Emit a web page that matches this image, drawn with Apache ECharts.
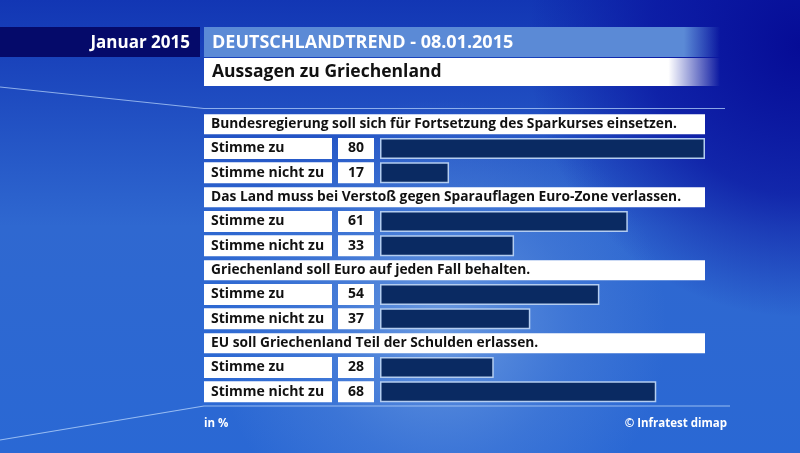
<!DOCTYPE html>
<html>
<head>
<meta charset="utf-8">
<script src="https://cdn.jsdelivr.net/npm/echarts@6/dist/echarts.min.js"></script>
<style>
  html, body { margin: 0; padding: 0; }
  #chart { width: 800px; height: 453px; }
</style>
</head>
<body>
<div id="chart"></div>
<script>
// Daten
var questions = [
    'Bundesregierung soll sich für Fortsetzung des Sparkurses einsetzen.',
    'Das Land muss bei Verstoß gegen Sparauflagen Euro-Zone verlassen.',
    'Griechenland soll Euro auf jeden Fall behalten.',
    'EU soll Griechenland Teil der Schulden erlassen.'
];
var answerLabels = ['Stimme zu', 'Stimme nicht zu'];
var agreeValues = [80, 61, 54, 28];
var disagreeValues = [17, 33, 37, 68];

var FONT = '"Open Sans", "DejaVu Sans", sans-serif';

// Zeilen bauen: Frage, dann zwei Antworten
var rows = [];
for (var i = 0; i < questions.length; i++) {
    rows.push({ type: 'q', text: questions[i] });
    rows.push({ type: 'a', text: answerLabels[0], value: agreeValues[i] });
    rows.push({ type: 'a', text: answerLabels[1], value: disagreeValues[i] });
}
var rowNames = rows.map(function (r, i) { return 'r' + i; });
var barData = rows.map(function (r) { return r.type === 'a' ? r.value : null; });
var boxData = rows.map(function (r, i) { return [0, i]; });

var chart = echarts.init(document.getElementById('chart'));

function renderBox(params, api) {
    var row = rows[params.dataIndex];
    var p = api.coord([0, params.dataIndex]); // p[0] = Achsenursprung
    var cy = p[1];
    var x0 = p[0] - 176;
    if (row.type === 'q') {
        return {
            type: 'group',
            children: [{
                type: 'rect',
                shape: { x: x0, y: cy - 10, width: 501, height: 20 },
                style: { fill: '#ffffff' }
            }, {
                type: 'text',
                style: {
                    x: x0 + 7, y: cy, text: row.text,
                    fill: '#111111', font: 'bold 13.75px ' + FONT,
                    verticalAlign: 'middle'
                }
            }]
        };
    }
    return {
        type: 'group',
        children: [{
            type: 'rect',
            shape: { x: x0, y: cy - 10.5, width: 128, height: 21 },
            style: { fill: '#ffffff' }
        }, {
            type: 'text',
            style: {
                x: x0 + 7, y: cy, text: row.text,
                fill: '#111111', font: 'bold 14px ' + FONT,
                verticalAlign: 'middle'
            }
        }, {
            type: 'rect',
            shape: { x: x0 + 134, y: cy - 10.5, width: 36, height: 21 },
            style: { fill: '#ffffff' }
        }, {
            type: 'text',
            style: {
                x: x0 + 152, y: cy, text: String(row.value),
                fill: '#111111', font: 'bold 14px ' + FONT,
                align: 'center', verticalAlign: 'middle'
            }
        }]
    };
}

chart.setOption({
    animation: false,
    backgroundColor: '#1a4cc4',
    graphic: [
        // Hintergrund
        {
            type: 'rect', z: -10, silent: true,
            shape: { x: 0, y: 0, width: 800, height: 453 },
            style: {
                fill: new echarts.graphic.LinearGradient(0, 0, 0, 1, [
                    { offset: 0, color: '#1236b4' },
                    { offset: 0.5, color: '#2f68d0' },
                    { offset: 1, color: '#2a68d4' }
                ])
            }
        },
        {
            type: 'rect', z: -9, silent: true,
            shape: { x: 0, y: 0, width: 800, height: 453 },
            style: {
                fill: new echarts.graphic.RadialGradient(0.55, 0.72, 0.5, [
                    { offset: 0, color: 'rgba(120,165,228,0.85)' },
                    { offset: 0.6, color: 'rgba(90,140,220,0.35)' },
                    { offset: 1, color: 'rgba(90,140,220,0)' }
                ])
            }
        },
        {
            type: 'rect', z: -8, silent: true,
            shape: { x: 0, y: 0, width: 800, height: 453 },
            style: {
                fill: new echarts.graphic.RadialGradient(1, 0.1, 0.6, [
                    { offset: 0, color: 'rgba(6,12,150,1)' },
                    { offset: 0.55, color: 'rgba(10,20,160,0.75)' },
                    { offset: 1, color: 'rgba(10,20,160,0)' }
                ])
            }
        },
        // Linien
        {
            type: 'polyline', z: -5, silent: true,
            shape: { points: [[0, 87], [204, 108.5], [725, 108.5]] },
            style: { stroke: 'rgba(170,200,245,0.8)', lineWidth: 1.2, fill: null }
        },
        {
            type: 'polyline', z: -5, silent: true,
            shape: { points: [[0, 440], [204, 406], [730, 406]] },
            style: { stroke: 'rgba(180,210,250,0.8)', lineWidth: 1.2, fill: null }
        },
        // Kopfzeile
        {
            type: 'rect', silent: true,
            shape: { x: 0, y: 27, width: 200, height: 30 },
            style: { fill: '#050a6a' }
        },
        {
            type: 'text', silent: true,
            style: {
                x: 190, y: 43, text: 'Januar 2015', fill: '#ffffff',
                font: 'bold 17px ' + FONT, align: 'right', verticalAlign: 'middle'
            }
        },
        {
            type: 'rect', silent: true,
            shape: { x: 204, y: 27, width: 516, height: 30 },
            style: {
                fill: new echarts.graphic.LinearGradient(0, 0, 1, 0, [
                    { offset: 0, color: '#5b8ad6' },
                    { offset: 0.93, color: '#5b8ad6' },
                    { offset: 1, color: 'rgba(91,138,214,0)' }
                ])
            }
        },
        {
            type: 'text', silent: true,
            style: {
                x: 212, y: 43, text: 'DEUTSCHLANDTREND - 08.01.2015', fill: '#ffffff',
                font: 'bold 18px ' + FONT, verticalAlign: 'middle'
            }
        },
        {
            type: 'rect', silent: true,
            shape: { x: 204, y: 58, width: 516, height: 28 },
            style: {
                fill: new echarts.graphic.LinearGradient(0, 0, 1, 0, [
                    { offset: 0, color: '#ffffff' },
                    { offset: 0.9, color: '#ffffff' },
                    { offset: 1, color: 'rgba(255,255,255,0)' }
                ])
            }
        },
        {
            type: 'text', silent: true,
            style: {
                x: 212, y: 72, text: 'Aussagen zu Griechenland', fill: '#111111',
                font: 'bold 17.5px ' + FONT, verticalAlign: 'middle'
            }
        },
        // Fußzeile
        {
            type: 'text', silent: true,
            style: {
                x: 204, y: 424, text: 'in %', fill: '#ffffff',
                font: 'bold 11.5px ' + FONT, verticalAlign: 'middle'
            }
        },
        {
            type: 'text', silent: true,
            style: {
                x: 727, y: 424, text: '© Infratest dimap', fill: '#ffffff',
                font: 'bold 11.5px ' + FONT, align: 'right', verticalAlign: 'middle'
            }
        }
    ],
    grid: {
        left: 380,
        right: 13.75,
        top: 112,
        height: 292
    },
    xAxis: {
        type: 'value',
        min: 0,
        max: 100,
        show: false
    },
    yAxis: {
        type: 'category',
        data: rowNames,
        inverse: true,
        show: false
    },
    series: [{
        type: 'custom',
        renderItem: renderBox,
        data: boxData,
        silent: true,
        clip: false
    }, {
        type: 'bar',
        data: barData,
        barWidth: 21,
        silent: true,
        itemStyle: {
            color: '#0a2a62',
            borderColor: '#b4cdf0',
            borderWidth: 1.5
        }
    }]
});
</script>
</body>
</html>
